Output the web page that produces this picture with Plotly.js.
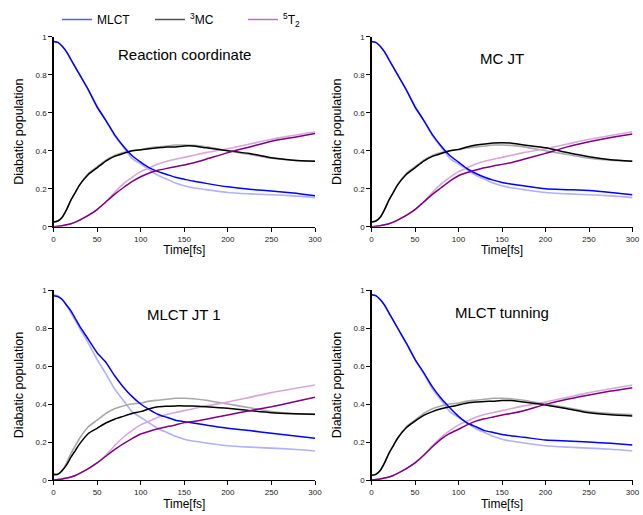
<!DOCTYPE html>
<html>
<head>
<meta charset="utf-8">
<script src="https://cdn.plot.ly/plotly-3.0.1.min.js"></script>
<style>html,body{margin:0;padding:0;background:#fff;}#chart{width:643px;height:515px;}</style>
</head>
<body>
<div id="chart"></div>
<script>
// Time axis (fs)
const time = [0,5,10,15,20,25,30,40,50,60,70,80,90,100,110,120,130,140,150,160,175,200,225,250,275,300];

// Reference (faint) curves, same in all panels
const refMLCT = [0.975,0.97,0.95,0.92,0.88,0.84,0.80,0.72,0.635,0.56,0.48,0.42,0.36,0.33,0.30,0.27,0.25,0.23,0.215,0.205,0.195,0.18,0.173,0.168,0.162,0.153];
const ref3MC  = [0.025,0.03,0.05,0.09,0.14,0.18,0.22,0.28,0.315,0.35,0.375,0.39,0.40,0.405,0.415,0.42,0.425,0.43,0.43,0.428,0.42,0.40,0.38,0.36,0.35,0.345];
const ref5T2  = [0,0.002,0.005,0.01,0.016,0.024,0.035,0.06,0.09,0.13,0.18,0.225,0.26,0.29,0.31,0.33,0.345,0.355,0.365,0.375,0.39,0.41,0.435,0.46,0.48,0.50];

// Panel 1: Reaction coordinate
const p1MLCT = [0.975,0.97,0.95,0.92,0.88,0.84,0.80,0.72,0.63,0.56,0.485,0.425,0.375,0.34,0.31,0.29,0.275,0.26,0.25,0.24,0.228,0.21,0.197,0.188,0.177,0.163];
const p13MC  = [0.025,0.03,0.05,0.09,0.14,0.18,0.22,0.275,0.31,0.345,0.37,0.385,0.40,0.405,0.41,0.415,0.42,0.42,0.425,0.425,0.415,0.40,0.385,0.363,0.35,0.344];
const p15T2  = [0,0.002,0.005,0.01,0.016,0.024,0.035,0.06,0.09,0.13,0.17,0.205,0.237,0.263,0.283,0.297,0.307,0.316,0.325,0.335,0.355,0.39,0.42,0.45,0.47,0.49];

// Panel 2: MC JT
const p2MLCT = [0.975,0.97,0.95,0.92,0.88,0.84,0.80,0.72,0.63,0.56,0.485,0.425,0.375,0.34,0.305,0.28,0.26,0.245,0.233,0.225,0.215,0.20,0.195,0.19,0.18,0.168];
const p23MC  = [0.025,0.03,0.05,0.09,0.14,0.18,0.22,0.275,0.31,0.345,0.37,0.385,0.40,0.407,0.42,0.43,0.435,0.44,0.442,0.44,0.43,0.415,0.39,0.368,0.352,0.344];
const p25T2  = [0,0.002,0.005,0.01,0.016,0.024,0.035,0.06,0.09,0.13,0.17,0.205,0.24,0.268,0.285,0.298,0.31,0.32,0.328,0.337,0.355,0.386,0.42,0.447,0.47,0.488];

// Panel 3: MLCT JT 1
const p3MLCT = [0.97,0.965,0.95,0.92,0.89,0.85,0.81,0.74,0.67,0.62,0.55,0.49,0.44,0.40,0.37,0.345,0.33,0.315,0.307,0.30,0.29,0.272,0.26,0.246,0.233,0.22];
const p33MC  = [0.03,0.03,0.05,0.08,0.12,0.155,0.19,0.245,0.272,0.30,0.32,0.335,0.35,0.36,0.375,0.385,0.388,0.39,0.39,0.389,0.385,0.377,0.365,0.354,0.349,0.346];
const p35T2  = [0,0.002,0.005,0.01,0.016,0.024,0.035,0.06,0.09,0.125,0.16,0.19,0.218,0.242,0.257,0.27,0.28,0.29,0.302,0.308,0.32,0.342,0.365,0.386,0.41,0.435];

// Panel 4: MLCT tunning
const p4MLCT = [0.975,0.97,0.95,0.92,0.88,0.84,0.80,0.72,0.635,0.565,0.49,0.43,0.38,0.335,0.30,0.28,0.26,0.25,0.24,0.233,0.225,0.21,0.205,0.20,0.193,0.184];
const p43MC  = [0.025,0.03,0.05,0.09,0.14,0.18,0.22,0.275,0.31,0.34,0.36,0.375,0.385,0.395,0.405,0.41,0.413,0.415,0.418,0.418,0.41,0.395,0.375,0.354,0.343,0.337];
const p45T2  = [0,0.002,0.005,0.01,0.016,0.024,0.035,0.06,0.09,0.13,0.175,0.215,0.245,0.267,0.29,0.31,0.322,0.332,0.342,0.35,0.365,0.398,0.425,0.447,0.468,0.486];

const panelTitles = ["Reaction coordinate", "MC JT", "MLCT JT 1", "MLCT tunning"];
const legendNames = ["MLCT", "<sup>3</sup>MC", "<sup>5</sup>T<sub>2</sub>"];

const panels = [
  [p1MLCT, p13MC, p15T2],
  [p2MLCT, p23MC, p25T2],
  [p3MLCT, p33MC, p35T2],
  [p4MLCT, p43MC, p45T2]
];
const refs = [refMLCT, ref3MC, ref5T2];
const boldColors = ["#0000ff", "#000000", "#800080"];
const faintColors = ["#b0b0ff", "#a8a8a8", "#d8a8d8"];
const legendColors = ["#5858ff", "#505050", "#c070c0"];

const W = 643, H = 515;
const xDom = [[53.5/W, 315/W], [371.5/W, 632.5/W]];
const yDom = [[1-226.7/H, 1-36.7/H], [1-480/H, 1-290/H]];
const titleY = [0.905, 0.885, 0.87, 0.88];

const traces = [];
const layout = {
  width: W, height: H,
  margin: {l:0, r:0, t:0, b:0},
  paper_bgcolor: "#fff", plot_bgcolor: "#fff",
  font: {family: "Liberation Sans, Arial, sans-serif", color: "#000"},
  showlegend: true,
  legend: {orientation: "h", x: 57/W, y: 1 - 5/H, xanchor: "left", yanchor: "top",
           font: {size: 12}, entrywidth: 48, entrywidthmode: "pixels", bgcolor: "rgba(0,0,0,0)"},
  annotations: []
};

panels.forEach((series, i) => {
  const n = i + 1;
  const xa = n === 1 ? "x" : "x" + n;
  const ya = n === 1 ? "y" : "y" + n;
  refs.forEach((r, k) => {
    traces.push({x: time, y: r, xaxis: xa, yaxis: ya, mode: "lines", showlegend: false,
      line: {color: faintColors[k], width: 1.6, shape: "spline", smoothing: 0.6}, hoverinfo: "skip"});
  });
  series.forEach((s, k) => {
    traces.push({x: time, y: s, xaxis: xa, yaxis: ya, mode: "lines", showlegend: false,
      line: {color: boldColors[k], width: 1.5, shape: "spline", smoothing: 0.6}});
  });
  const col = i % 2, row = Math.floor(i / 2);
  const axCommon = {showline: true, linecolor: "#000", linewidth: 1.2, ticks: "outside", ticklen: 4,
    tickcolor: "#000", showgrid: false, zeroline: false, tickfont: {size: 8, color: "#222"}, fixedrange: true};
  layout["xaxis" + (n === 1 ? "" : n)] = Object.assign({}, axCommon, {
    domain: xDom[col], range: [0, 300], tickvals: [0,50,100,150,200,250,300], anchor: ya,
    title: {text: "Time[fs]", font: {size: 12}, standoff: 2}
  });
  layout["yaxis" + (n === 1 ? "" : n)] = Object.assign({}, axCommon, {
    domain: yDom[row], range: [0, 1], tickvals: [0,0.2,0.4,0.6,0.8,1], anchor: xa,
    title: {text: "Diabatic population", font: {size: 12.5}, standoff: 9}
  });
  layout.annotations.push({text: panelTitles[i], xref: xa + " domain", yref: ya + " domain",
    x: 0.5, y: titleY[i], xanchor: "center", yanchor: "middle", showarrow: false, font: {size: 15, color: "#000"}});
});

legendNames.forEach((nm, k) => {
  traces.push({x: [null], y: [null], mode: "lines", name: nm, showlegend: true,
    line: {color: legendColors[k], width: 1.5}});
});

Plotly.newPlot("chart", traces, layout, {displayModeBar: false, staticPlot: true});
</script>
</body>
</html>
